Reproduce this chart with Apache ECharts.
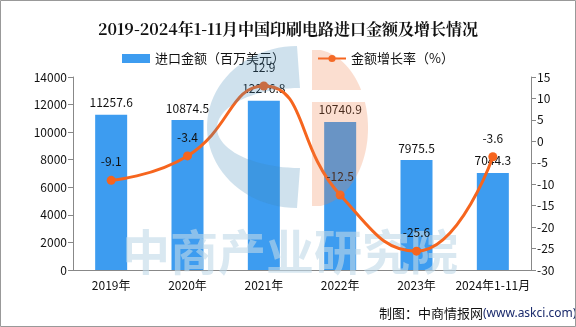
<!DOCTYPE html>
<html><head><meta charset="utf-8">
<script src="https://cdn.jsdelivr.net/npm/echarts@6/dist/echarts.min.js"></script>
<style>html,body{margin:0;padding:0;background:#fff}#c{width:576px;height:327px}</style>
</head><body><div id="c"></div>
<script>
const categories = ['2019年','2020年','2021年','2022年','2023年','2024年1-11月'];
const importValues = [11257.6, 10874.5, 12276.8, 10740.9, 7975.5, 7044.3];
const growthRates = [-9.1, -3.4, 12.9, -12.5, -25.6, -3.6];
const leftTicks = {min:0, max:14000, interval:2000};
const rightTicks = {min:-30, max:15, interval:5};

const FONT = '"Noto Sans CJK SC","Noto Sans",sans-serif';

function cShape(){
  const pts=[];
  const ocx=297, ocy=127, orx=90, ory=81;
  for(let a=90;a<=270;a+=4){const r=a*Math.PI/180;pts.push([ocx+orx*Math.cos(r), ocy-ory*Math.sin(r)]);}
  const icx=300, icy=128, irx=83, iry=40;
  for(let a=270;a>=90;a-=4){const r=a*Math.PI/180;pts.push([icx+irx*Math.cos(r), icy-iry*Math.sin(r)]);}
  return pts;
}
function halfDisc(y0,y1){
  const cx=312, cy=128, rx=56, ry=79; const pts=[[cx,y0]];
  for(let y=y0;y<=y1;y+=2){const t=(y-cy)/ry; const w=rx*Math.sqrt(Math.max(0,1-t*t)); pts.push([cx+w,y]);}
  pts.push([cx,y1]); return pts;
}

const chart = echarts.init(document.getElementById('c'));
chart.setOption({
  animation:false,
  backgroundColor:'#fff',
  textStyle:{fontFamily:FONT},
  title:{text:'2019-2024年1-11月中国印刷电路进口金额及增长情况',left:'center',top:16,
    textStyle:{fontSize:16,fontWeight:'bold',color:'#111',fontFamily:'"Noto Serif CJK SC","Noto Sans CJK SC",serif'}},
  legend:{top:47,left:'center',itemGap:32,textStyle:{fontSize:13,color:'#111'},
    data:[{name:'进口金额（百万美元）',icon:'rect',itemStyle:{color:'#3d9cf0'}},{name:'金额增长率（%）'}],
    itemWidth:28,itemHeight:9},
  grid:{left:73,right:45,top:77,bottom:57},
  xAxis:{type:'category',data:categories,
    axisLine:{lineStyle:{color:'#888'}},axisTick:{alignWithLabel:false,lineStyle:{color:'#888'}},
    axisLabel:{color:'#111',fontSize:12,margin:9,interval:0}},
  yAxis:[
    {type:'value',min:leftTicks.min,max:leftTicks.max,interval:leftTicks.interval,
     axisLine:{show:true,lineStyle:{color:'#888'}},axisTick:{show:true,lineStyle:{color:'#888'}},
     splitLine:{show:false},axisLabel:{color:'#111',fontSize:12,margin:6,formatter:v=>String(v)}},
    {type:'value',min:rightTicks.min,max:rightTicks.max,interval:rightTicks.interval,
     axisLine:{show:true,lineStyle:{color:'#888'}},axisTick:{show:true,lineStyle:{color:'#888'}},
     splitLine:{show:false},axisLabel:{color:'#111',fontSize:12,margin:6}}
  ],
  series:[
    {name:'进口金额（百万美元）',type:'bar',data:importValues,barWidth:32,z:1,
     itemStyle:{color:'#3d9cf0'},
     label:{show:true,position:'top',color:'#111',fontSize:12,distance:6}},
    {name:'金额增长率（%）',type:'line',yAxisIndex:1,data:growthRates,smooth:true,z:5,
     symbol:'circle',symbolSize:9,
     lineStyle:{color:'#f6651e',width:3},itemStyle:{color:'#f6651e'},
     label:{show:true,position:'top',color:'#111',fontSize:12,distance:8}}
  ],
  graphic:[
    {type:'text',z:3,silent:true,left:122,top:228,style:{text:'中商产业研究院',fontSize:48,fontWeight:'bold',fontFamily:'"Noto Sans CJK SC"',fill:'#c0d8e8',opacity:0.6}},
    {type:'polygon',z:100,silent:true,shape:{points:cShape()},style:{fill:'#3f88b8',opacity:0.25}},
    {type:'polygon',z:100,silent:true,shape:{points:halfDisc(50,90)},style:{fill:'#ee7a45',opacity:0.25}},
    {type:'polygon',z:100,silent:true,shape:{points:halfDisc(102,206)},style:{fill:'#ee7a45',opacity:0.25}},
    {type:'text',z:101,silent:true,left:379,top:307,style:{text:'制图：中商情报网',fontSize:13,fontFamily:'"Noto Sans CJK SC"',fill:'#111'}},
    {type:'text',z:101,silent:true,left:483,top:308,style:{text:'(www.askci.com)',fontSize:12,fontFamily:'"Noto Sans",sans-serif',fill:'#1a2a6c'}},
    {type:'rect',z:102,silent:true,shape:{x:0.5,y:0.5,width:575,height:326},style:{fill:'none',stroke:'#999',lineWidth:1}}
  ]
});
</script></body></html>
